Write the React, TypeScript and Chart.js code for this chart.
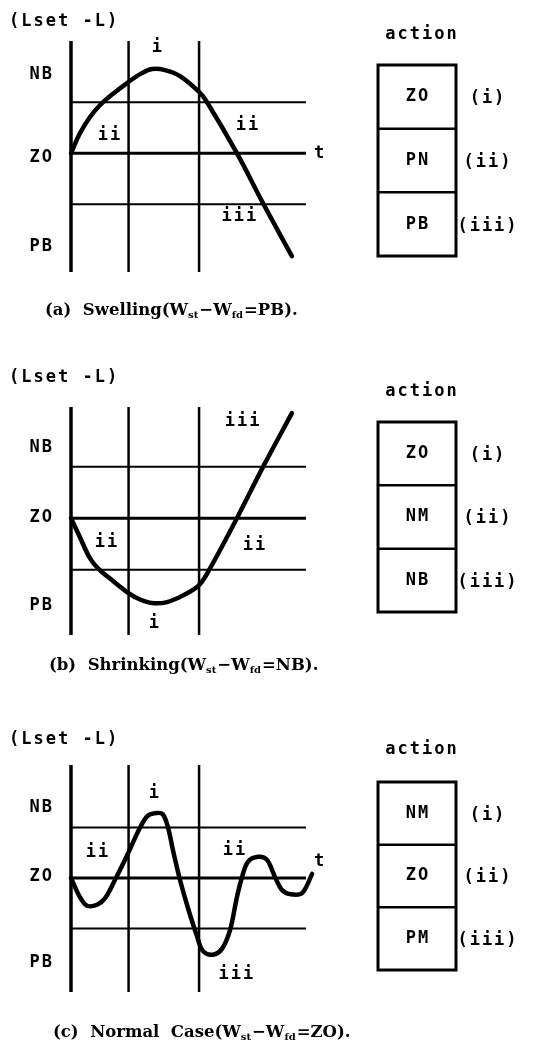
import React, { useEffect, useRef } from 'react';
import { Chart, registerables } from 'chart.js';
Chart.register(...registerables);

// ---------- shared data ----------
const gridTimes = [0, 2.45, 5.45];      // vertical division lines (time units)
const levelLines = [1, 0, -1];          // horizontal level lines
const levelNames = ['NB', 'ZO', 'PB'];  // y tick labels
const romanNames = ['(i)', '(ii)', '(iii)'];
const tEnd = 10;

// ---------- (a) swelling ----------
const swellX = [0, 0.38, 0.81, 1.23, 1.83, 2.43, 2.94, 3.45, 4.0, 4.64, 5.45, 5.79, 7.06, 8.17, 9.4];
const swellY = [0, 0.39, 0.71, 0.94, 1.18, 1.39, 1.55, 1.65, 1.63, 1.51, 1.2, 1.0, 0, -0.98, -2.02];
const swellTicks = [1.55, -0.08, -1.84];
const swellActions = ['ZO', 'PN', 'PB'];
const swellRegionText = ['i', 'ii', 'ii', 'iii', 't'];
const swellRegionX = [3.7, 1.66, 7.53, 7.19, 10.6];
const swellRegionY = [2.08, 0.35, 0.55, -1.25, 0];
const swellCaption = ['(a)  Swelling(W', 'st', '\u2212W', 'fd', '=PB).'];

// ---------- (b) shrinking ----------
const shrinkX = [0, 0.38, 0.81, 1.23, 1.79, 2.43, 2.94, 3.45, 4.09, 4.77, 5.45, 5.91, 7.06, 8.21, 9.4];
const shrinkY = [0, -0.37, -0.78, -1.01, -1.22, -1.45, -1.58, -1.65, -1.63, -1.5, -1.3, -0.98, 0, 1.03, 2.04];
const shrinkTicks = [1.38, 0.02, -1.69];
const shrinkActions = ['ZO', 'NM', 'NB'];
const shrinkRegionText = ['iii', 'ii', 'ii', 'i'];
const shrinkRegionX = [7.32, 1.53, 7.83, 3.57];
const shrinkRegionY = [1.88, -0.47, -0.54, -2.04];
const shrinkCaption = ['(b)  Shrinking(W', 'st', '\u2212W', 'fd', '=NB).'];

// ---------- (c) normal ----------
const normalX = [0, 0.38, 0.68, 1.11, 1.45, 1.87, 2.38, 2.94, 3.28, 3.66, 3.91, 4.13, 4.34, 4.64, 4.98, 5.36, 5.62, 6.04, 6.43, 6.77, 7.06, 7.28, 7.53, 7.96, 8.34, 8.68, 8.98, 9.32, 9.83, 10.26];
const normalY = [0, -0.38, -0.55, -0.53, -0.4, -0.04, 0.44, 1.0, 1.24, 1.29, 1.26, 1.0, 0.55, -0.04, -0.6, -1.15, -1.45, -1.52, -1.4, -1.03, -0.38, 0.02, 0.32, 0.42, 0.36, 0.02, -0.24, -0.32, -0.3, 0.08];
const normalTicks = [1.39, 0.02, -1.68];
const normalActions = ['NM', 'ZO', 'PM'];
const normalRegionText = ['i', 'ii', 'ii', 'iii', 't'];
const normalRegionX = [3.57, 1.15, 6.98, 7.06, 10.6];
const normalRegionY = [1.68, 0.5, 0.55, -1.92, 0.32];
const normalCaption = ['(c)  Normal  Case(W', 'st', '\u2212W', 'fd', '=ZO).'];

const MONO = '"DejaVu Sans Mono", monospace';
const SERIF = '"DejaVu Serif", serif';
const SPACING = '2px';
const MONO_SIZE = 17;

type Layout = {
  top: number; height: number; padTop: number; padBottom: number; yMin: number; yMax: number;
  titleY: number; actionY: number; boxTop: number; boxBottom: number; captionX: number; captionY: number;
};

type PanelProps = {
  xs: number[]; ys: number[]; ticks: number[]; actions: string[];
  regionText: string[]; regionX: number[]; regionY: number[]; caption: string[]; layout: Layout;
};

function Panel(p: PanelProps) {
  const ref = useRef<HTMLCanvasElement>(null);
  useEffect(() => {
    const L = p.layout;
    const curve = p.xs.map((x, i) => ({ x, y: p.ys[i] }));
    const datasets: any[] = [];
    levelLines.forEach((lv) => {
      datasets.push({ data: [{ x: 0, y: lv }, { x: tEnd, y: lv }], borderColor: '#000', borderWidth: lv === 0 ? 3 : 2, pointRadius: 0, clip: false, tension: 0 });
    });
    gridTimes.forEach((t, i) => {
      datasets.push({ data: [{ x: t, y: L.yMin }, { x: t, y: L.yMax }], borderColor: '#000', borderWidth: i === 0 ? 3.5 : 2.5, pointRadius: 0, clip: false, tension: 0 });
    });
    datasets.push({ data: curve, borderColor: '#000', borderWidth: 4.5, pointRadius: 0, clip: false, tension: 0.35, borderCapStyle: 'round', borderJoinStyle: 'round' });

    const textPlugin = {
      id: 'schematicText',
      beforeDraw(chart: any) { chart.ctx.letterSpacing = SPACING; },
      afterDraw(chart: any) {
        const ctx = chart.ctx as CanvasRenderingContext2D;
        const sx = chart.scales.x, sy = chart.scales.y;
        ctx.save();
        ctx.fillStyle = '#000';
        ctx.strokeStyle = '#000';
        (ctx as any).letterSpacing = SPACING;
        ctx.font = `bold ${MONO_SIZE}px ${MONO}`;
        ctx.textBaseline = 'middle';
        // axis title
        ctx.textAlign = 'left';
        ctx.fillText('(Lset -L)', 9, L.titleY);
        // region labels
        ctx.textAlign = 'center';
        p.regionText.forEach((t, i) => {
          ctx.fillText(t, sx.getPixelForValue(p.regionX[i]), sy.getPixelForValue(p.regionY[i]));
        });
        // action table
        const bx0 = 378, bx1 = 456;
        ctx.fillText('action', 422, L.actionY);
        ctx.lineWidth = 3;
        ctx.strokeRect(bx0, L.boxTop, bx1 - bx0, L.boxBottom - L.boxTop);
        const rh = (L.boxBottom - L.boxTop) / p.actions.length;
        ctx.lineWidth = 2.5;
        for (let i = 1; i < p.actions.length; i++) {
          ctx.beginPath();
          ctx.moveTo(bx0, L.boxTop + rh * i);
          ctx.lineTo(bx1, L.boxTop + rh * i);
          ctx.stroke();
        }
        p.actions.forEach((a, i) => {
          const cy = L.boxTop + rh * (i + 0.5);
          ctx.textAlign = 'center';
          ctx.fillText(a, 418, cy);
          ctx.fillText(romanNames[i], 488, cy + 2);
        });
        // caption
        (ctx as any).letterSpacing = '0px';
        ctx.textAlign = 'left';
        ctx.textBaseline = 'alphabetic';
        let cx = L.captionX;
        p.caption.forEach((seg, i) => {
          const sub = i % 2 === 1;
          ctx.font = sub ? `bold 10px ${SERIF}` : `bold 16.5px ${SERIF}`;
          ctx.fillText(seg, cx, sub ? L.captionY + 3 : L.captionY);
          cx += ctx.measureText(seg).width + (sub ? 1 : 0);
        });
        ctx.restore();
      },
    };

    const chart = new Chart(ref.current as HTMLCanvasElement, {
      type: 'line',
      data: { datasets },
      options: {
        animation: false,
        responsive: false,
        events: [],
        layout: { padding: { left: 0, right: 547 - 306, top: L.padTop, bottom: L.padBottom } },
        plugins: { legend: { display: false }, tooltip: { enabled: false }, title: { display: false } },
        scales: {
          x: { type: 'linear', display: false, min: 0, max: tEnd },
          y: {
            type: 'linear', min: L.yMin, max: L.yMax,
            grid: { display: false, drawTicks: false }, border: { display: false },
            afterFit: (s: any) => { s.width = 71; },
            afterBuildTicks: (s: any) => { s.ticks = p.ticks.map((v) => ({ value: v })); },
            ticks: {
              autoSkip: false, padding: 17, color: '#000',
              font: { family: MONO, weight: 'bold', size: MONO_SIZE },
              callback: (_v: any, i: number) => levelNames[i],
            },
          },
        },
      } as any,
      plugins: [textPlugin],
    });
    return () => chart.destroy();
  }, []);
  return (
    <canvas ref={ref} width={547} height={p.layout.height}
      style={{ position: 'absolute', left: 0, top: p.layout.top, width: 547, height: p.layout.height }} />
  );
}

const layoutA: Layout = { top: 0, height: 340, padTop: 41, padBottom: 68, yMin: -2.33, yMax: 2.2, titleY: 22, actionY: 35, boxTop: 65, boxBottom: 256, captionX: 45, captionY: 315 };
const layoutB: Layout = { top: 340, height: 350, padTop: 67, padBottom: 55, yMin: -2.27, yMax: 2.16, titleY: 38, actionY: 52, boxTop: 82, boxBottom: 272, captionX: 49, captionY: 330 };
const layoutC: Layout = { top: 690, height: 354, padTop: 75, padBottom: 52, yMin: -2.26, yMax: 2.24, titleY: 50, actionY: 60, boxTop: 92, boxBottom: 280, captionX: 53, captionY: 347 };

export default function App() {
  return (
    <div style={{ position: 'absolute', left: 0, top: 0, width: 547, height: 1044, background: '#fff', overflow: 'hidden' }}>
      <Panel xs={swellX} ys={swellY} ticks={swellTicks} actions={swellActions} regionText={swellRegionText} regionX={swellRegionX} regionY={swellRegionY} caption={swellCaption} layout={layoutA} />
      <Panel xs={shrinkX} ys={shrinkY} ticks={shrinkTicks} actions={shrinkActions} regionText={shrinkRegionText} regionX={shrinkRegionX} regionY={shrinkRegionY} caption={shrinkCaption} layout={layoutB} />
      <Panel xs={normalX} ys={normalY} ticks={normalTicks} actions={normalActions} regionText={normalRegionText} regionX={normalRegionX} regionY={normalRegionY} caption={normalCaption} layout={layoutC} />
    </div>
  );
}
